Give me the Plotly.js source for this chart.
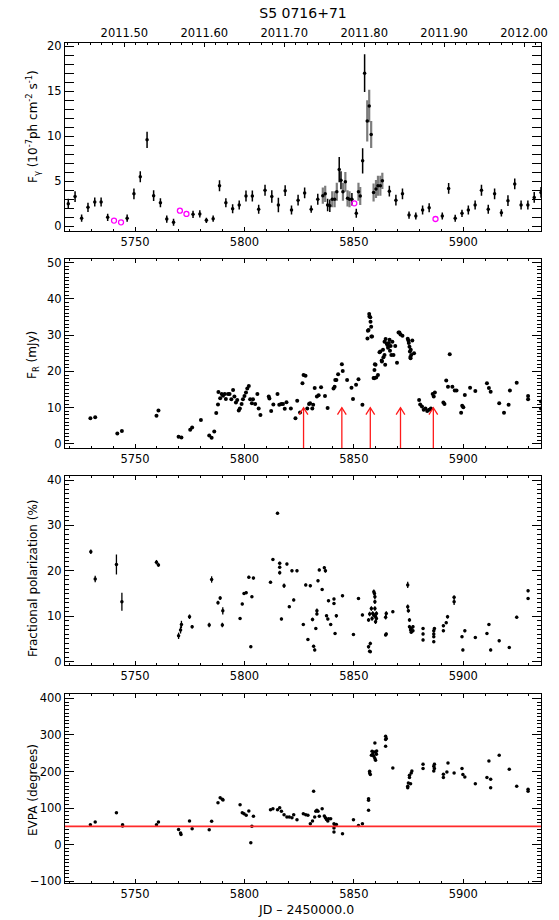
<!DOCTYPE html>
<html>
<head>
<meta charset="utf-8">
<script src="https://cdn.plot.ly/plotly-3.0.1.min.js"></script>
<style>html,body{margin:0;padding:0;background:#fff;}</style>
</head>
<body>
<div id="chart" style="width:559px;height:920px;"></div>
<script>
// ---------- Panel 1: gamma-ray flux (3-day bins, black) ----------
const fgJD = [5719.5,5722.6,5725.6,5728.5,5731.6,5734.5,5737.5,5746.4,5749.5,5752.4,5755.5,5758.5,5761.6,5764.5,5767.6,5776.5,5779.6,5782.6,5785.7,5788.6,5791.5,5794.6,5797.6,5800.7,5803.6,5806.5,5809.4,5812.5,5815.5,5818.6,5821.5,5824.5,5827.5,5830.5,5833.5,5838.0,5839.0,5843.3,5844.1,5849.1,5851.1,5854.0,5854.9,5866.2,5869.2,5872.2,5875.2,5878.3,5881.4,5884.4,5890.4,5893.3,5896.3,5899.4,5902.3,5905.4,5908.3,5911.4,5914.3,5917.4,5920.4,5923.5,5926.4,5929.5,5932.4,5935.5];
const fgFlux = [2.5,3.3,0.9,2.1,2.7,2.7,1.0,0.9,3.6,5.5,9.6,3.4,2.6,0.8,0.45,1.33,1.37,0.66,0.85,4.5,2.6,1.96,2.36,3.36,3.36,1.9,4.0,3.3,2.36,3.95,1.8,2.9,3.7,1.9,3.0,2.36,2.28,6.3,5.1,3.0,1.44,7.27,17.0,3.9,2.9,3.6,1.25,1.14,1.8,2.07,1.14,4.2,0.89,1.44,1.8,2.36,4.0,1.9,3.6,1.5,2.84,4.7,2.36,2.36,3.2,3.76];
const fgErr  = [0.55,0.6,0.4,0.5,0.5,0.5,0.4,0.4,0.6,0.6,0.9,0.6,0.5,0.4,0.4,0.4,0.4,0.3,0.35,0.6,0.5,0.5,0.5,0.6,0.6,0.5,0.6,0.7,0.8,0.6,0.5,0.6,0.6,0.4,0.6,0.7,0.7,1.4,1.0,0.7,0.5,1.4,2.1,0.6,0.6,0.6,0.4,0.4,0.5,0.5,0.4,0.6,0.4,0.4,0.5,0.5,0.6,0.5,0.6,0.4,0.6,0.6,0.5,0.5,0.6,0.6];
// 1-day bins during the flare (grey error bars)
const fgFineJD = [5835.8,5836.9,5840.1,5841.2,5842.2,5845.0,5846.1,5847.1,5848.0,5852.1,5852.9,5856.1,5857.0,5857.9,5859.0,5860.1,5861.0,5862.1,5863.0];
const fgFineFlux = [3.4,3.6,3.0,3.0,3.83,3.83,4.94,3.1,3.0,3.83,3.36,11.7,13.36,10.2,3.76,4.13,4.5,4.5,5.05];
const fgFineErr = [0.9,0.9,0.9,0.9,1.0,1.0,1.1,0.9,0.9,1.0,1.0,2.3,1.8,1.5,1.0,1.0,1.1,1.1,0.9];
// magenta open circles
const fgLimJD = [5740.4,5743.6,5770.5,5773.5,5850.2,5887.3];
const fgLimFlux = [0.63,0.44,1.73,1.37,2.55,0.81];

// ---------- Panel 2: R-band flux ----------
const frJD = [5729.6,5731.8,5741.9,5744.0,5759.8,5760.7,5769.9,5771.2,5775.2,5776.1,5780.1,5783.9,5785.0,5786.2,5787.1,5787.9,5788.1,5788.9,5789.6,5790.2,5791.0,5791.5,5792.5,5793.2,5794.0,5794.8,5795.4,5796.1,5796.7,5797.4,5797.9,5798.7,5799.3,5800.0,5800.7,5801.3,5802.0,5802.6,5803.4,5803.9,5804.9,5805.9,5806.5,5807.3,5811.1,5811.4,5812.2,5813.2,5815.1,5815.9,5816.8,5817.6,5818.4,5819.2,5821.2,5823.3,5824.1,5825.4,5826.5,5827.0,5827.9,5828.7,5829.5,5830.0,5831.0,5831.4,5832.1,5833.1,5833.9,5835.0,5836.8,5838.0,5840.7,5841.2,5841.5,5842.0,5842.8,5844.5,5844.9,5846.9,5848.9,5849.6,5851.0,5852.1,5853.9,5856.2,5856.4,5856.7,5857.0,5857.1,5857.5,5857.6,5857.9,5858.0,5858.3,5859.0,5859.3,5859.4,5859.6,5859.9,5860.2,5861.0,5861.7,5862.1,5862.7,5862.8,5863.3,5863.5,5864.0,5864.0,5864.3,5864.5,5865.0,5865.3,5865.6,5866.0,5866.3,5866.5,5866.8,5867.1,5867.6,5868.1,5868.9,5869.7,5870.4,5870.8,5871.3,5872.2,5874.6,5874.9,5875.1,5875.4,5875.6,5875.8,5875.9,5876.0,5876.2,5876.7,5877.5,5879.8,5880.3,5881.1,5881.9,5882.7,5883.5,5884.4,5885.2,5886.0,5886.5,5887.0,5890.9,5891.4,5892.2,5893.0,5893.8,5895.0,5896.1,5896.9,5899.0,5899.5,5900.0,5900.7,5903.1,5905.5,5910.8,5911.7,5912.5,5916.4,5918.6,5920.7,5921.3,5924.4,5929.6,5929.6,5935.5,5935.5];
const frFlux = [7.1,7.35,2.9,3.6,7.8,9.2,2.0,1.8,3.9,4.5,6.6,2.3,1.7,3.4,8.5,10.9,14.3,12.6,13.8,13.3,13.8,12.4,13.8,13.8,12.3,14.9,13.1,11.4,12.1,9.2,9.8,11.0,12.3,13.2,14.2,15.3,16.0,12.3,11.2,12.3,11.0,13.8,9.8,8.0,13.1,12.5,9.1,10.9,13.8,10.8,11.0,11.0,9.7,11.5,9.8,7.1,11.9,8.7,16.7,19.0,18.8,9.8,11.0,11.2,9.8,10.8,15.4,13.1,13.4,15.6,13.2,9.9,15.3,15.8,17.6,17.6,19.2,22.0,20.1,17.6,15.5,12.4,16.3,17.8,10.8,29.1,31.2,31.4,35.8,35.1,34.9,33.7,32.3,29.6,29.6,18.2,18.1,20.4,22.0,21.8,18.3,19.0,25.3,25.5,23.0,22.7,26.0,23.9,24.5,28.2,21.8,28.9,27.7,27.3,26.5,27.8,28.7,25.7,27.0,24.5,28.2,24.5,27.0,22.4,30.7,30.7,30.2,29.8,29.0,28.5,27.8,26.8,25.5,24.0,23.6,26.0,24.5,28.5,25.0,12.1,10.9,10.3,9.4,9.8,9.1,9.4,9.8,13.8,13.1,14.2,11.4,11.0,17.5,15.8,24.7,15.8,14.7,14.7,8.6,10.5,10.1,13.5,15.5,14.6,16.7,15.4,14.4,11.2,8.6,10.8,14.7,16.9,13.2,12.3,11.7,9.8];
// red arrows marking epochs
const arrowJD = [5827.0,5844.5,5857.5,5871.3,5886.3];
const arrowTipFlux = 10;

// ---------- Panel 3: fractional polarization ----------
const pJD = [5729.8,5731.8,5741.5,5744.0,5759.8,5760.7,5769.9,5770.8,5771.2,5774.9,5776.1,5783.9,5785.0,5787.9,5788.9,5789.9,5790.1,5798.0,5799.0,5799.8,5800.8,5802.0,5802.9,5803.4,5804.1,5811.9,5813.0,5815.1,5816.1,5816.1,5816.1,5816.9,5818.1,5819.4,5820.5,5821.7,5822.5,5824.0,5826.9,5828.0,5829.0,5830.1,5831.1,5831.6,5832.1,5832.6,5833.1,5833.1,5833.6,5834.2,5835.5,5836.5,5837.0,5837.5,5838.1,5838.4,5839.4,5840.9,5840.9,5841.4,5842.0,5844.8,5849.8,5852.1,5853.9,5856.7,5856.7,5857.2,5857.5,5857.5,5857.2,5858.0,5858.3,5858.6,5859.1,5859.1,5859.4,5859.6,5859.6,5859.6,5859.9,5859.9,5860.3,5860.3,5864.5,5864.5,5864.8,5864.8,5867.8,5874.6,5874.6,5874.9,5875.4,5875.4,5875.9,5876.2,5876.2,5877.0,5877.0,5881.6,5881.6,5881.6,5886.5,5886.5,5886.5,5886.5,5886.8,5890.9,5890.9,5892.2,5892.8,5895.8,5895.8,5899.4,5899.8,5900.7,5905.5,5910.8,5911.7,5912.5,5916.4,5921.0,5924.4,5929.6,5929.6];
const pFrac = [24.2,18.2,21.4,13.2,21.9,21.3,5.7,7.0,8.2,9.9,7.7,8.1,18.1,13.0,14.0,8.1,11.2,9.5,12.7,15.0,15.2,18.6,3.3,14.3,18.4,17.5,22.5,32.7,21.7,20.8,19.6,9.4,16.7,21.5,12.1,20.0,13.6,20.0,8.2,16.9,4.9,16.7,9.3,3.4,2.6,7.3,11.2,10.5,17.8,20.2,15.9,20.7,20.0,10.1,9.4,13.4,8.2,13.8,12.8,6.2,10.1,14.5,6.0,13.9,10.3,9.2,3.3,2.3,2.2,4.0,10.5,11.7,9.5,10.6,10.3,15.4,15.0,14.3,13.2,11.7,9.9,8.8,10.6,9.5,9.8,5.9,10.6,6.1,11.0,16.9,12.1,11.2,9.2,7.7,7.0,7.3,6.5,7.7,6.8,7.3,6.1,4.8,6.8,6.1,5.5,4.4,7.3,7.9,6.8,8.6,9.9,13.2,14.2,5.5,2.6,6.8,5.3,6.2,8.2,2.6,4.6,3.1,9.8,15.6,13.9];
const pErr = [0.5,0.7,2.2,2.0,0.5,0.4,0.7,0.8,0.8,0.5,0.4,0.5,0.7,0.4,0.4,0.5,0.8,0.3,0.3,0.3,0.3,0.3,0.3,0.3,0.3,0.3,0.3,0.3,0.3,0.3,0.4,0.3,0.5,0.3,0.3,0.3,0.3,0.3,0.3,0.3,0.3,0.3,0.4,0.3,0.3,0.3,0.5,0.3,0.3,0.3,0.3,0.3,0.4,0.3,0.3,0.3,0.3,0.3,0.3,0.3,0.4,0.3,0.3,0.3,0.3,0.4,0.4,0.3,0.3,0.4,0.5,0.5,0.5,0.5,0.5,0.5,0.5,0.5,0.5,0.5,0.5,0.5,0.5,0.5,0.5,0.3,0.5,0.3,0.3,0.7,0.5,0.4,0.4,0.4,0.4,0.4,0.3,0.4,0.3,0.3,0.3,0.3,0.3,0.3,0.3,0.3,0.3,0.3,0.3,0.3,0.4,0.7,0.4,0.3,0.3,0.3,0.3,0.3,0.3,0.3,0.3,0.3,0.3,0.3,0.3];

// ---------- Panel 4: EVPA ----------
const evJD = [5729.6,5731.8,5741.5,5744.3,5744.3,5759.8,5760.7,5769.9,5770.8,5771.0,5774.9,5776.1,5783.9,5785.0,5787.9,5788.9,5789.9,5790.2,5798.0,5799.0,5799.8,5800.8,5802.0,5802.9,5803.4,5804.1,5811.9,5813.0,5815.1,5816.1,5816.9,5818.1,5819.4,5820.5,5821.7,5822.5,5824.0,5826.9,5828.0,5829.0,5830.1,5831.1,5831.6,5832.1,5832.6,5833.1,5833.6,5834.2,5835.5,5836.5,5837.0,5837.5,5838.1,5838.4,5839.4,5840.9,5840.9,5841.4,5840.9,5842.0,5844.8,5849.8,5852.1,5853.9,5856.7,5856.7,5856.7,5857.2,5857.2,5857.5,5858.0,5858.3,5858.6,5859.1,5859.1,5859.6,5859.6,5859.9,5859.9,5860.3,5860.4,5864.5,5864.5,5864.5,5864.8,5867.8,5874.6,5874.6,5874.9,5875.4,5875.4,5875.9,5876.2,5876.5,5881.6,5881.6,5886.5,5886.5,5886.8,5886.8,5890.9,5890.9,5892.5,5893.0,5895.8,5899.4,5899.8,5900.7,5905.5,5910.8,5911.7,5912.5,5912.5,5916.4,5921.0,5924.4,5929.6,5929.6];
const evpa = [54.4,61.7,87.3,54.4,50.8,54.4,61.7,41.6,31.6,27.9,64.5,43.5,40.7,63.6,114.7,128.4,123.9,122.0,109.2,87.3,84.6,80.0,91.9,5.1,49.9,77.3,95.5,98.3,95.5,101.0,91.0,81.8,75.4,75.4,73.6,81.8,68.1,84.6,81.8,80.0,57.2,64.5,145.8,75.4,91.0,93.7,91.0,77.3,98.3,78.2,73.6,69.0,64.5,70.9,70.9,57.2,45.3,52.6,34.3,55.3,29.7,68.1,52.6,57.2,93.7,121.1,125.7,196.1,200.6,191.5,244.5,255.4,247.2,253.6,241.7,278.3,235.3,253.6,230.8,247.2,256.4,296.6,287.4,269.2,290.2,209.8,155.8,159.5,168.6,183.3,189.7,166.8,196.1,201.5,207.9,219.8,201.5,214.3,219.8,207.9,192.4,183.3,198.8,223.5,196.1,207.9,191.5,185.1,166.8,183.3,228.9,178.7,155.8,244.5,206.1,159.5,151.3,145.8];
const evpaRef = 50;

// ---------- Axis labels ----------
const yearTicks = [2011.5,2011.6,2011.7,2011.8,2011.9,2012.0];
const yearLabels = ['2011.50','2011.60','2011.70','2011.80','2011.90','2012.00'];
const jdRange = [5718, 5935.5];
const jdOfYearStart2011 = 5562.5, daysPerYear = 365.25;
const toYear = jd => 2011 + (jd - jdOfYearStart2011) / daysPerYear;

const FONT = 'DejaVu Sans, sans-serif';
const tickFont = {family: FONT, size: 11.5, color: '#000'};

function xax(extra) {
  return Object.assign({
    range: jdRange, autorange: false, showline: true, linecolor: '#000', linewidth: 1,
    mirror: 'allticks', ticks: 'inside', ticklen: 4, tickwidth: 1, tickcolor: '#000',
    tick0: 5750, dtick: 50, showgrid: false, zeroline: false, tickfont: tickFont,
    minor: {ticks: 'inside', ticklen: 2, dtick: 10, tick0: 5750, tickcolor: '#000', showgrid: false}
  }, extra);
}
function yax(extra, mdt) {
  return Object.assign({
    autorange: false, showline: true, linecolor: '#000', linewidth: 1,
    mirror: 'allticks', ticks: 'inside', ticklen: 9, tickwidth: 1, tickcolor: '#000',
    showgrid: false, zeroline: false, tickfont: tickFont,
    minor: {ticks: 'inside', ticklen: 4, dtick: mdt, tickcolor: '#000', showgrid: false}
  }, extra);
}

const traces = [
  {x: fgFineJD, y: fgFineFlux, xaxis: 'x', yaxis: 'y', mode: 'markers', type: 'scatter',
   marker: {color: '#000', size: 3.5},
   error_y: {type: 'data', array: fgFineErr, visible: true, color: '#7c7c7c', thickness: 2.2, width: 0}},
  {x: fgJD, y: fgFlux, xaxis: 'x', yaxis: 'y', mode: 'markers', type: 'scatter',
   marker: {color: '#000', size: 3.5},
   error_y: {type: 'data', array: fgErr, visible: true, color: '#000', thickness: 1.5, width: 0}},
  {x: fgLimJD, y: fgLimFlux, xaxis: 'x', yaxis: 'y', mode: 'markers', type: 'scatter',
   marker: {symbol: 'circle-open', color: '#ff00ff', size: 5, line: {width: 1.3, color: '#ff00ff'}}},
  {x: yearTicks, y: yearTicks.map(() => null), xaxis: 'x5', yaxis: 'y', mode: 'markers', type: 'scatter',
   hoverinfo: 'skip', showlegend: false},
  {x: frJD, y: frFlux, xaxis: 'x2', yaxis: 'y2', mode: 'markers', type: 'scatter',
   marker: {color: '#000', size: 4}},
  {x: pJD, y: pFrac, xaxis: 'x3', yaxis: 'y3', mode: 'markers', type: 'scatter',
   marker: {color: '#000', size: 3.5},
   error_y: {type: 'data', array: pErr, visible: true, color: '#000', thickness: 1.3, width: 0}},
  {x: evJD, y: evpa, xaxis: 'x4', yaxis: 'y4', mode: 'markers', type: 'scatter',
   marker: {color: '#000', size: 3.5}}
];

const H = 840, B = 883;
const dom = (top, bot) => [(B - bot) / H, (B - top) / H];
const fr2Range = [-1.2, 50.9];

// arrows (shaft + open V head) built from arrowJD
const arrowColor = '#ff1a1a';
const headHalfWidthDays = 2.0, headHeightFlux = 1.9;
const shapes = [{type: 'line', xref: 'x4 domain', yref: 'y4', x0: 0, x1: 1, y0: evpaRef, y1: evpaRef,
                 line: {color: '#ff2a2a', width: 1.6}}];
arrowJD.forEach(jd => {
  shapes.push({type: 'line', xref: 'x2', yref: 'y2', x0: jd, x1: jd, y0: fr2Range[0], y1: arrowTipFlux,
               line: {color: arrowColor, width: 1.3}});
  shapes.push({type: 'path', xref: 'x2', yref: 'y2',
               path: `M${jd - headHalfWidthDays},${arrowTipFlux - headHeightFlux} L${jd},${arrowTipFlux} L${jd + headHalfWidthDays},${arrowTipFlux - headHeightFlux}`,
               line: {color: arrowColor, width: 1.3}});
});

const annotations = [];
const ytitle = (text, py) => ({
  text: text, xref: 'paper', yref: 'paper', x: (33 - 65) / 476, y: (B - py) / H,
  xanchor: 'center', yanchor: 'middle', textangle: -90, showarrow: false,
  font: {family: FONT, size: 12, color: '#000'}
});
annotations.push(ytitle('F<sub>γ</sub> (10<sup>-7</sup>ph cm<sup>-2</sup> s<sup>-1</sup>)', 127));
annotations.push(ytitle('F<sub>R</sub> (mJy)', 355));
annotations.push(ytitle('Fractional polarization (%)', 578));
annotations.push(ytitle('EVPA (degrees)', 790));
annotations.push({text: 'JD – 2450000.0', xref: 'paper', yref: 'paper', x: (305.5 - 65) / 476, y: (B - 910) / H,
  xanchor: 'center', yanchor: 'middle', showarrow: false, font: {family: FONT, size: 12.5, color: '#000'}});

const layout = {
  width: 559, height: 920, paper_bgcolor: '#fff', plot_bgcolor: '#fff', showlegend: false,
  margin: {l: 65, r: 18, t: 43, b: 37},
  title: {text: 'S5 0716+71', font: {family: FONT, size: 14, color: '#000'},
          xref: 'paper', x: 0.5, xanchor: 'center', yref: 'container', y: 1 - 13.5 / 920, yanchor: 'middle'},
  xaxis: xax({anchor: 'y', mirror: true}),
  xaxis5: {overlaying: 'x', side: 'top', anchor: 'y', range: jdRange.map(toYear), autorange: false,
    tickvals: yearTicks, ticktext: yearLabels, ticks: 'inside', ticklen: 4, tickcolor: '#000',
    showline: true, linecolor: '#000', linewidth: 1, showgrid: false, zeroline: false, tickfont: tickFont,
    minor: {ticks: 'inside', ticklen: 2, dtick: 0.1 / 7, tick0: 2011.5, tickcolor: '#000', showgrid: false}},
  yaxis: yax({domain: dom(42.7, 230.7), range: [-0.49, 20.35], dtick: 5, tick0: 0, anchor: 'x'}, 1),
  xaxis2: xax({anchor: 'y2'}),
  yaxis2: yax({domain: dom(259.3, 448.3), range: fr2Range, dtick: 10, tick0: 0, anchor: 'x2'}, 1),
  xaxis3: xax({anchor: 'y3'}),
  yaxis3: yax({domain: dom(475.7, 665), range: [-0.73, 40.95], dtick: 10, tick0: 0, anchor: 'x3'}, 1),
  xaxis4: xax({anchor: 'y4'}),
  yaxis4: yax({domain: dom(694, 883), range: [-105, 412], dtick: 100, tick0: 0, anchor: 'x4'}, 10),
  shapes: shapes,
  annotations: annotations
};

Plotly.newPlot('chart', traces, layout, {staticPlot: true, displayModeBar: false});
</script>
</body>
</html>
